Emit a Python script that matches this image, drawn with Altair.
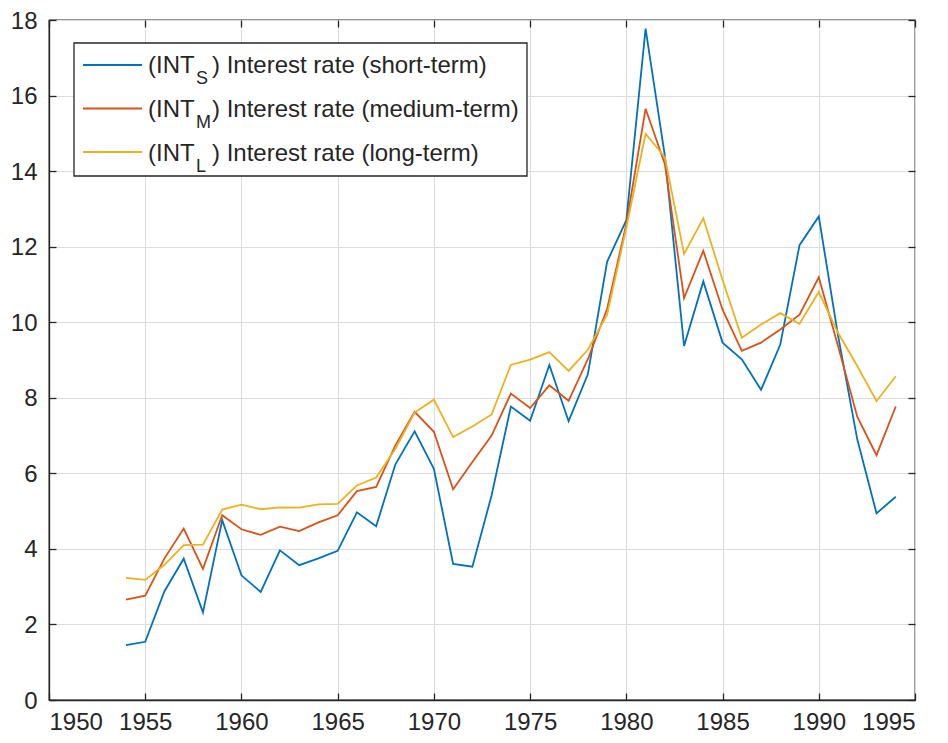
import altair as alt
import pandas as pd

years = list(range(1954, 1995))
short_term = [1.45, 1.54, 2.88, 3.74, 2.32, 4.76, 3.30, 2.86, 3.96, 3.57,
              3.75, 3.95, 4.97, 4.60, 6.24, 7.11, 6.12, 3.60, 3.53, 5.42,
              7.77, 7.39, 8.87, 7.38, 8.62, 11.60, 12.70, 17.77, 14.41, 9.37,
              11.08, 9.46, 9.02, 8.21, 9.41, 12.04, 12.80, 9.65, 6.90, 4.94,
              5.38]
medium_term = [2.66, 2.76, 3.75, 4.54, 3.47, 4.89, 4.52, 4.37, 4.59, 4.47,
               4.70, 4.89, 5.53, 5.64, 6.74, 7.63, 7.10, 5.58, 6.30, 7.00,
               8.11, 7.73, 8.33, 7.92, 9.02, 10.35, 12.60, 15.65, 14.19, 10.64,
               11.89, 10.33, 9.24, 9.46, 9.81, 10.20, 11.19, 9.37, 7.50, 6.48,
               7.77]
long_term = [3.23, 3.18, 3.58, 4.10, 4.11, 5.04, 5.17, 5.05, 5.10, 5.09,
             5.18, 5.19, 5.68, 5.89, 6.65, 7.61, 7.95, 6.96, 7.24, 7.56,
             8.87, 9.01, 9.21, 8.71, 9.27, 10.20, 12.50, 14.99, 14.37, 11.81,
             12.75, 11.12, 9.59, 9.94, 10.24, 9.96, 10.80, 9.72, 8.84, 7.91,
             8.57]

series_names = ["short", "medium", "long"]
series_colors = ["#0072BD", "#D95319", "#EDB120"]
legend_pre = ["(INT", "(INT", "(INT"]
legend_sub = ["S", "M", "L"]
legend_post = [") Interest rate (short-term)",
               ") Interest rate (medium-term)",
               ") Interest rate (long-term)"]
x_ticks = list(range(1950, 1996, 5))
y_ticks = list(range(0, 19, 2))

rows = []
for name, vals in zip(series_names, [short_term, medium_term, long_term]):
    for yr, v in zip(years, vals):
        rows.append({"year": yr, "value": v, "series": name})
df = pd.DataFrame(rows)

leg = pd.DataFrame({
    "idx": [0, 1, 2],
    "series": series_names,
    "pre": legend_pre,
    "sub": legend_sub,
    "post": legend_post,
})

FONT = "Liberation Sans"
INK = "#262626"

color_scale = alt.Scale(domain=series_names, range=series_colors)
x_scale = alt.Scale(domain=[1950, 1995], nice=False, zero=False)
y_scale = alt.Scale(domain=[0, 18], nice=False)

lines = alt.Chart(df).mark_line(strokeWidth=1.8).encode(
    x=alt.X("year:Q", scale=x_scale,
            axis=alt.Axis(values=x_ticks, format="d", title=None,
                          labelPadding=10, labelBaseline="top",
                          ticks=False, grid=True)),
    y=alt.Y("value:Q", scale=y_scale,
            axis=alt.Axis(values=y_ticks, title=None, labelPadding=12,
                          labelOffset=1, ticks=False, grid=True)),
    color=alt.Color("series:N", scale=color_scale, legend=None),
    order=alt.Order("year:Q"),
)


def tick_axis(orient, vals):
    return alt.Axis(orient=orient, values=vals, title=None, labels=False,
                    domain=False, grid=False, ticks=True, tickSize=7,
                    tickColor=INK, tickWidth=1.3, offset=-7)


ticks_bl = alt.Chart(df).mark_point(opacity=0).encode(
    x=alt.X("year:Q", scale=x_scale, axis=tick_axis("bottom", x_ticks)),
    y=alt.Y("value:Q", scale=y_scale, axis=tick_axis("left", y_ticks)),
)
ticks_tr = alt.Chart(df).mark_point(opacity=0).encode(
    x=alt.X("year:Q", scale=x_scale, axis=tick_axis("top", x_ticks)),
    y=alt.Y("value:Q", scale=y_scale, axis=tick_axis("right", y_ticks)),
)

box = alt.Chart(pd.DataFrame({"a": [0]})).mark_rect(
    fill="white", stroke=INK, strokeWidth=1.3
).encode(
    x=alt.value(25), x2=alt.value(478), y=alt.value(23), y2=alt.value(156)
)

leg_base = alt.Chart(leg).transform_calculate(
    ly="45 + 43.5 * datum.idx",
    ty="53 + 44 * datum.idx",
    sy="64 + 44 * datum.idx",
)

leg_lines = leg_base.mark_rule(strokeWidth=1.8).encode(
    x=alt.value(34), x2=alt.value(93),
    y=alt.Y("ly:Q", scale=None),
    color=alt.Color("series:N", scale=color_scale, legend=None),
)

leg_pre = leg_base.mark_text(
    align="left", baseline="alphabetic", font=FONT, fontSize=24, color=INK
).encode(x=alt.value(99), y=alt.Y("ty:Q", scale=None), text="pre:N")

leg_sub = leg_base.mark_text(
    align="left", baseline="alphabetic", font=FONT, fontSize=18, color=INK
).encode(x=alt.value(147), y=alt.Y("sy:Q", scale=None), text="sub:N")

leg_post = leg_base.mark_text(
    align="left", baseline="alphabetic", font=FONT, fontSize=24, color=INK
).encode(x=alt.value(163), y=alt.Y("ty:Q", scale=None), text="post:N")

chart = alt.layer(
    lines, ticks_bl, ticks_tr, box, leg_lines, leg_pre, leg_sub, leg_post
).resolve_axis(
    x="independent", y="independent"
).properties(
    width=866, height=680,
    autosize=alt.AutoSizeParams(type="none"),
    padding={"left": 41, "top": 12, "right": 25, "bottom": 35},
    background="white",
).configure_view(
    stroke=INK, strokeWidth=1.3
).configure_axis(
    labelFont=FONT, labelFontSize=24, labelColor=INK,
    domainColor=INK, domainWidth=1.3,
    gridColor="#dcdcdc", gridWidth=1,
)

chart.save("out.html", embed_options={"renderer": "svg", "actions": False})
